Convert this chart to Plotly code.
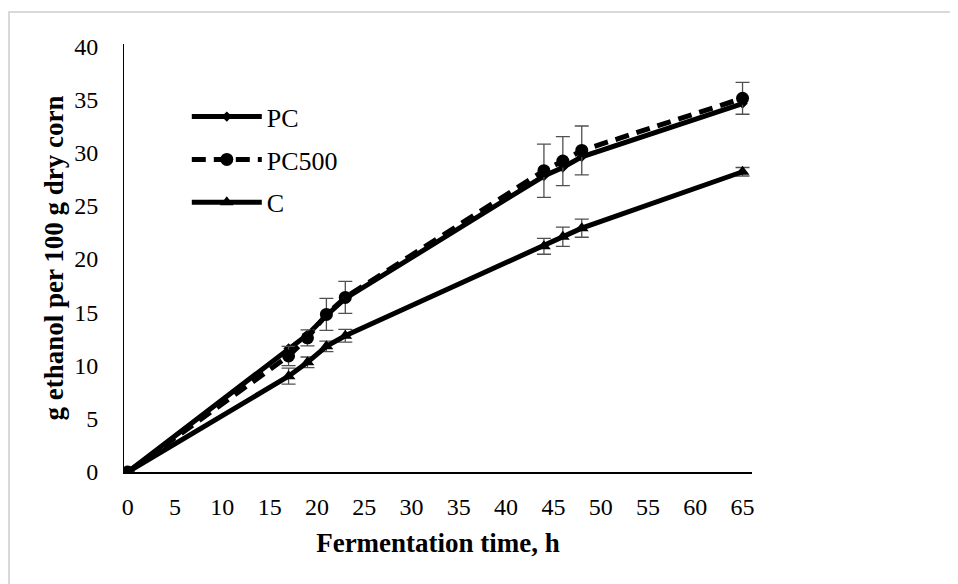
import plotly.graph_objects as go

time_h = [0, 17, 19, 21, 23, 44, 46, 48, 65]
pc = [0, 11.6, 12.9, 14.7, 16.3, 27.8, 28.6, 29.6, 34.6]
pc500 = [0, 10.9, 12.6, 14.8, 16.4, 28.3, 29.2, 30.2, 35.1]
pc500_err = [0, 0.9, 0.75, 1.5, 1.5, 2.5, 2.3, 2.3, 1.5]
c = [0, 9.0, 10.3, 11.8, 12.8, 21.2, 22.1, 22.9, 28.2]
c_err = [0, 0.75, 0.5, 0.5, 0.6, 0.75, 0.9, 0.85, 0.4]

x_ticks = list(range(0, 70, 5))
y_ticks = list(range(0, 45, 5))

FONT = "Liberation Serif"
ERR = dict(type="data", visible=True, color="#505050", thickness=1.3, width=7)

fig = go.Figure()
fig.add_trace(go.Scatter(
    x=time_h, y=pc, name="PC", mode="lines+markers", legendgroup="a",
    line=dict(color="black", width=5),
    marker=dict(symbol="diamond", size=8, color="black"),
))
fig.add_trace(go.Scatter(
    x=time_h, y=pc500, name="PC500", mode="lines+markers", legendgroup="b",
    line=dict(color="black", width=5, dash="14px,8px"),
    marker=dict(symbol="circle", size=13, color="black"),
    error_y=dict(array=pc500_err, **ERR),
))
fig.add_trace(go.Scatter(
    x=time_h, y=c, name="C", mode="lines+markers", legendgroup="c",
    line=dict(color="black", width=5),
    marker=dict(symbol="triangle-up", size=12, color="black"),
    error_y=dict(array=c_err, **ERR),
))

# page has an 8px body margin, so the figure is offset by 8px on screen
L, T, PW, PH = 116, 36, 628, 428

fig.update_layout(
    width=958, height=584,
    margin=dict(l=L, r=958 - L - PW, t=T, b=584 - T - PH),
    paper_bgcolor="white", plot_bgcolor="white",
    font=dict(family=FONT, size=24, color="black"),
    showlegend=True,
    legend=dict(
        x=0.1, y=0.885, xanchor="left", yanchor="top",
        bgcolor="rgba(0,0,0,0)", font=dict(family=FONT, size=26),
        tracegroupgap=6, itemwidth=70,
    ),
    xaxis=dict(
        range=[-0.4, 66], tickvals=x_ticks, ticktext=[str(v) for v in x_ticks],
        showgrid=False, zeroline=False, showline=True, linecolor="black", linewidth=2,
        ticks="", ticklabelstandoff=12, tickfont=dict(family=FONT, size=24),
        title=dict(text="<b>Fermentation time, h</b>", font=dict(family=FONT, size=27), standoff=14),
    ),
    yaxis=dict(
        range=[0, 40.2], tickvals=y_ticks, ticktext=[str(v) for v in y_ticks],
        showgrid=False, zeroline=False, showline=True, linecolor="black", linewidth=1,
        ticks="", ticklabelstandoff=20, tickfont=dict(family=FONT, size=24),
        title=dict(text="<b>g ethanol per 100 g dry corn</b>", font=dict(family=FONT, size=27), standoff=2),
    ),
    shapes=[dict(
        type="rect", xref="paper", yref="paper",
        x0=(1 - L) / PW, x1=(975 - L) / PW,
        y0=(T + PH - 600) / PH, y1=(T + PH - 4) / PH,
        line=dict(color="#d9d9d9", width=2), fillcolor="rgba(0,0,0,0)", layer="below",
    )],
)

fig.write_html("out.html")
